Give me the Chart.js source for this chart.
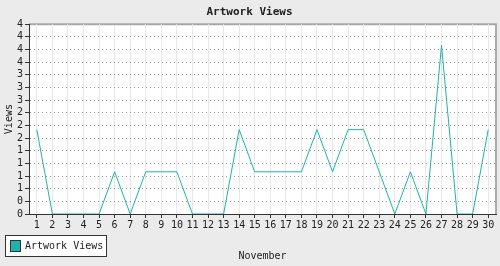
<!DOCTYPE html>
<html>
<head>
<meta charset="utf-8">
<script src="https://cdn.jsdelivr.net/npm/chart.js@4/dist/chart.umd.min.js"></script>
<style>
  html, body { margin: 0; padding: 0; background: #ebebeb; }
  #chart { display: block; }
</style>
</head>
<body>
<canvas id="chart" width="500" height="266"></canvas>
<script>
// données du graphique
const days = ["1","2","3","4","5","6","7","8","9","10","11","12","13","14","15",
              "16","17","18","19","20","21","22","23","24","25","26","27","28","29","30"];
const views = [2,0,0,0,0,1,0,1,1,1,0,0,0,2,1,1,1,1,2,1,2,2,1,0,1,0,4,0,0,2];
const yTickLabels = ["0","0","1","1","1","1","2","2","2","3","3","3","4","4","4","4"];

const font = "'DejaVu Sans Mono', monospace";
const teal = "#20b2aa";

// fond blanc + cadre du graphique
const plotFrame = {
    id: "plotFrame",
    beforeDraw(chart) {
        const { ctx, chartArea: a } = chart;
        ctx.save();
        ctx.fillStyle = "#fff";
        ctx.fillRect(a.left, a.top, a.right - a.left, a.bottom - a.top);
        ctx.strokeStyle = "#aaa";
        ctx.lineWidth = 2;
        ctx.beginPath();
        ctx.moveTo(a.left, a.top);
        ctx.lineTo(a.right, a.top);
        ctx.lineTo(a.right, a.bottom);
        ctx.stroke();
        ctx.restore();
    }
};

// légende en bas à gauche
const boxLegend = {
    id: "boxLegend",
    afterDraw(chart) {
        const ctx = chart.ctx;
        const ds = chart.data.datasets[0];
        ctx.save();
        ctx.fillStyle = "#fff";
        ctx.fillRect(5.5, 235.5, 101, 21);
        ctx.strokeStyle = "#333";
        ctx.lineWidth = 1;
        ctx.strokeRect(5.5, 235.5, 101, 21);
        ctx.fillStyle = ds.borderColor;
        ctx.fillRect(10.5, 240.5, 10, 11);
        ctx.strokeRect(10.5, 240.5, 10, 11);
        ctx.fillStyle = "#222";
        ctx.font = "10px " + font;
        ctx.textBaseline = "middle";
        ctx.fillText(ds.label, 25, 246.5);
        ctx.restore();
    }
};

new Chart(document.getElementById("chart"), {
    type: "line",
    data: {
        labels: days,
        datasets: [{
            label: "Artwork Views",
            data: views,
            borderColor: teal,
            backgroundColor: teal,
            borderWidth: 1,
            pointRadius: 0,
            tension: 0
        }]
    },
    options: {
        responsive: false,
        devicePixelRatio: 1,
        animation: false,
        layout: { padding: { left: 3, right: 4, top: 0, bottom: 0 } },
        plugins: {
            legend: { display: false },
            tooltip: { enabled: false },
            title: {
                display: true,
                text: "Artwork Views",
                color: "#222",
                font: { family: font, size: 11, weight: "bold" },
                padding: { top: 6, bottom: 5 }
            }
        },
        scales: {
            x: {
                offset: true,
                grid: { offset: false, color: "#e8e8e8", tickColor: "#333", tickLength: 4 },
                border: { color: "#333", width: 1 },
                ticks: {
                    color: "#222", font: { family: font, size: 10 },
                    padding: 1, maxRotation: 0, autoSkip: false
                },
                title: {
                    display: true, text: "November", color: "#222",
                    font: { family: font, size: 10 },
                    padding: { top: 18, bottom: 4 }
                }
            },
            y: {
                min: 0,
                max: 4.5,
                grid: { color: "#999", tickColor: "#333", tickLength: 4 },
                border: { color: "#333", width: 1, dash: [1, 3] },
                ticks: {
                    stepSize: 0.3,
                    autoSkip: false,
                    color: "#222", font: { family: font, size: 10 },
                    padding: 2,
                    callback: (v, i) => yTickLabels[i]
                },
                title: {
                    display: true, text: "Views", color: "#222",
                    font: { family: font, size: 10 },
                    padding: { top: 0, bottom: 0 }
                }
            }
        }
    },
    plugins: [plotFrame, boxLegend]
});
</script>
</body>
</html>
